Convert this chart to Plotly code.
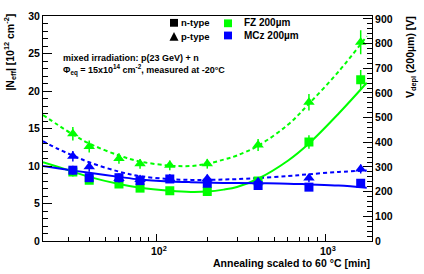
import numpy as np
import plotly.graph_objects as go

# ---- data ----
t_points = [32, 40, 60, 80, 120, 200, 400, 800, 1620]

fz_n = [9.2, 8.1, 7.6, 7.05, 6.7, 6.6, 8.0, 13.2, 21.5]
fz_n_err = [0.6, 0.5, 0.5, 0.45, 0.45, 0.45, 0.55, 0.9, 1.3]
fz_p = [14.3, 12.6, 11.0, 10.3, 10.1, 10.3, 12.8, 18.5, 26.5]
fz_p_err = [0.9, 0.8, 0.7, 0.65, 0.65, 0.65, 0.8, 1.1, 1.6]
mcz_n = [9.44, 8.44, 8.44, 8.05, 8.27, 7.7, 7.4, 7.18, 7.7]
mcz_n_err = [0.6, 0.55, 0.55, 0.5, 0.55, 0.5, 0.5, 0.5, 0.5]
mcz_p = [11.3, 9.9, 8.35, 8.2, 8.3, 8.3, 7.9, 8.4, 9.6]
mcz_p_err = [0.7, 0.65, 0.55, 0.55, 0.55, 0.55, 0.5, 0.55, 0.6]

# fit curves, sampled by eye
fit_t = [21.3, 26, 32, 40, 60, 80, 120, 160, 200, 250, 300, 400, 600, 800, 1200, 1760]
fit_fz_n = [10.5, 9.9, 9.25, 8.55, 7.6, 7.1, 6.7, 6.55, 6.6, 6.85, 7.2, 8.3, 10.7, 13.0, 17.0, 21.1]
fit_fz_p = [16.8, 15.5, 14.2, 13.0, 11.4, 10.6, 10.05, 10.0, 10.3, 10.85, 11.4, 12.7, 15.5, 18.3, 22.6, 27.3]
fit_mcz_n = [10.0, 9.7, 9.4, 9.1, 8.55, 8.2, 7.95, 7.85, 7.8, 7.75, 7.73, 7.7, 7.65, 7.55, 7.4, 7.1]
fit_mcz_p = [13.3, 12.3, 11.4, 10.5, 9.25, 8.65, 8.25, 8.15, 8.15, 8.2, 8.25, 8.4, 8.65, 8.9, 9.2, 9.4]

x_major = [100, 1000]
x_major_text = ["10<sup>2</sup>", "10<sup>3</sup>"]
x_minor = [30, 40, 50, 60, 70, 80, 90, 200, 300, 400, 500, 600, 700, 800, 900]

GREEN = "#00ff00"
BLUE = "#0000ff"
FONT = "Liberation Sans"

fig = go.Figure()

def fit_line(y, color, dash):
    fig.add_trace(go.Scatter(x=fit_t, y=y, mode="lines", line=dict(color=color, width=2, dash=dash, shape="spline"),
                             showlegend=False, hoverinfo="skip"))

fit_line(fit_fz_n, GREEN, "solid")
fit_line(fit_fz_p, GREEN, "4px,3px")
fit_line(fit_mcz_n, BLUE, "solid")
fit_line(fit_mcz_p, BLUE, "4px,3px")

def pts(y, err, color, symbol, size):
    fig.add_trace(go.Scatter(x=t_points, y=y, mode="markers",
                             marker=dict(color=color, symbol=symbol, size=size, line=dict(width=0)),
                             error_y=dict(type="data", array=err, color=color, thickness=1.5, width=0),
                             showlegend=False))

pts(fz_p, fz_p_err, GREEN, "triangle-up", 10)
pts(fz_n, fz_n_err, GREEN, "square", 9)
pts(mcz_p, mcz_p_err, BLUE, "triangle-up", 10)
pts(mcz_n, mcz_n_err, BLUE, "square", 9)

# invisible trace to activate right axis
fig.add_trace(go.Scatter(x=[100], y=[0], yaxis="y2", mode="markers", marker=dict(opacity=0), showlegend=False, hoverinfo="skip"))

L, R, T, B = 43, 372, 10, 241
W, H = 424, 274

def px(x):
    return (x - L) / (R - L)

def py(y):
    return (B - y) / (B - T)

tick_font = dict(family=FONT, size=10.5, color="black")

fig.update_layout(
    width=W, height=H,
    margin=dict(l=L, r=W - R, t=T, b=H - B, pad=0),
    paper_bgcolor="white", plot_bgcolor="white",
    showlegend=False,
    xaxis=dict(type="log", range=[np.log10(21.3), np.log10(1890)],
               tickmode="array", tickvals=x_major, showticklabels=False,
               ticks="inside", ticklen=7, tickcolor="black", tickwidth=1,
               minor=dict(tickmode="array", tickvals=x_minor, ticks="inside", ticklen=4, tickcolor="black"),
               showline=True, linecolor="black", linewidth=1, mirror=True,
               showgrid=False, zeroline=False),
    yaxis=dict(range=[0, 30], dtick=5, tick0=0,
               ticks="inside", ticklen=9, tickcolor="black", tickwidth=1,
               minor=dict(dtick=1, ticks="inside", ticklen=5, tickcolor="black"),
               showline=True, linecolor="black", linewidth=1,
               showgrid=False, zeroline=False, tickfont=tick_font,
               tickprefix="<b>", ticksuffix="</b>"),
    yaxis2=dict(range=[0, 912], dtick=100, tick0=0, overlaying="y", side="right",
                ticks="inside", ticklen=9, tickcolor="black", tickwidth=1,
                minor=dict(dtick=20, ticks="inside", ticklen=5, tickcolor="black"),
                showline=True, linecolor="black", linewidth=1,
                showgrid=False, zeroline=False, tickfont=tick_font,
                tickprefix="<b>", ticksuffix="</b>"),
)

ann = []
def text(x, y, s, size=9, xanchor="left", yanchor="middle", angle=0):
    ann.append(dict(x=px(x), y=py(y), xref="paper", yref="paper", text=s, showarrow=False,
                    xanchor=xanchor, yanchor=yanchor, textangle=angle,
                    font=dict(family=FONT, size=size, color="black")))

# x tick labels
for v, s in zip(x_major, x_major_text):
    xp = L + (np.log10(v) - np.log10(21.3)) / (np.log10(1890) - np.log10(21.3)) * (R - L)
    text(xp + 3, 251, f"<b>{s}</b>", size=10.5, xanchor="center")

# axis titles
text(10, 6, "<b>|N<sub>eff</sub>| [10<sup>12</sup> cm<sup>-2</sup>]</b>", size=10.5, xanchor="center", yanchor="top", angle=-90)
text(411, 8, "<b>V<sub>depl</sub> (200µm) [V]</b>", size=10.5, xanchor="center", yanchor="top", angle=-90)
text(372, 264, "<b>Annealing scaled to 60 °C [min]</b>", size=10.5, xanchor="right")

# info text
text(61, 53, "<b>mixed irradiation: p(23 GeV) + n</b>", size=9)
text(61, 65, "<b>Φ<sub>eq</sub> = 15x10<sup>14</sup> cm<sup>-2</sup>, measured at -20°C</b>", size=9)

# legend texts
text(179, 17, "<b>n-type</b>", size=9.5)
text(179, 31, "<b>p-type</b>", size=9.5)
text(242, 17, "<b>FZ 200µm</b>", size=10)
text(242, 30, "<b>MCz 200µm</b>", size=10)

fig.update_layout(annotations=ann)

shapes = []
def sq(cx, cy, s, color):
    shapes.append(dict(type="rect", xref="paper", yref="paper",
                       x0=px(cx - s / 2), x1=px(cx + s / 2), y0=py(cy + s / 2), y1=py(cy - s / 2),
                       fillcolor=color, line=dict(width=0)))

def tri(cx, cy, s, color):
    path = "M {} {} L {} {} L {} {} Z".format(px(cx - s / 2), py(cy + s / 2), px(cx + s / 2), py(cy + s / 2), px(cx), py(cy - s / 2))
    shapes.append(dict(type="path", xref="paper", yref="paper", path=path, fillcolor=color, line=dict(width=0)))

sq(174, 17, 8, "black")
tri(174, 31, 9, "black")
sq(228, 17.5, 8, GREEN)
sq(228, 30, 8, BLUE)
fig.update_layout(shapes=shapes)

fig.write_html("out.html", config={"displayModeBar": False},
               post_script="document.body.style.margin='0';document.body.style.padding='0';")
